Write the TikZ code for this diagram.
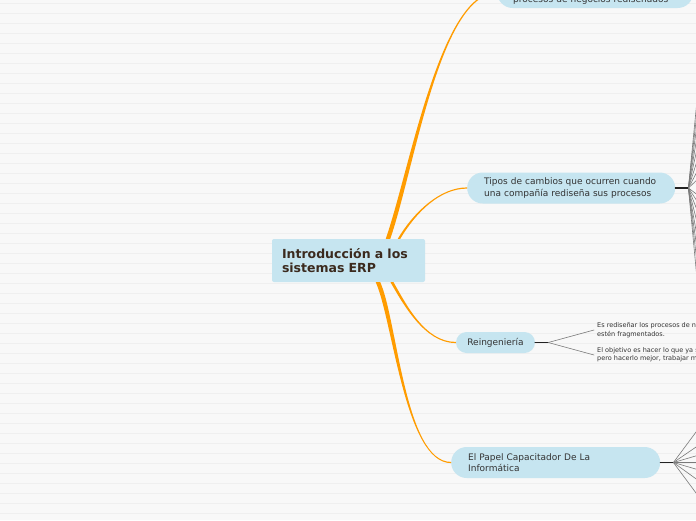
\documentclass[tikz,border=0pt]{standalone}
\usepackage{fontspec}
\setmainfont{DejaVu Sans}
\usetikzlibrary{calc}

\definecolor{canvas}{HTML}{F8F8F8}
\definecolor{stripe}{HTML}{EFEFEF}
\definecolor{topicblue}{HTML}{C6E5F0}
\definecolor{branchorange}{HTML}{FF9C00}
\definecolor{inktext}{HTML}{333333}
\definecolor{roottext}{HTML}{3B2A1E}
\definecolor{twiggray}{HTML}{7A7A7A}
\definecolor{stemblack}{HTML}{222222}

% tapered branch: start, control 1, control 2, end, start width, end width
\newcommand{\branch}[6]{%
  \fill[branchorange] ($(#1)+({-(#5)/2},0)$) .. controls ($(#2)+({-(#5)/2},0)$) and ($(#3)+(0,{-(#6)/2})$) .. ($(#4)+(0,{-(#6)/2})$)
    -- ($(#4)+(0,{(#6)/2})$) .. controls ($(#3)+(0,{(#6)/2})$) and ($(#2)+({(#5)/2},0)$) .. ($(#1)+({(#5)/2},0)$) -- cycle;}

\begin{document}
\begin{tikzpicture}[x=1pt, y=-1pt, line cap=round, line join=round]
	\tikzset{
		rootbox/.style={fill=topicblue, rounded corners=2pt, text=roottext, font=\fontsize{12.5}{14}\selectfont\bfseries, align=left, text width=133pt, inner xsep=10pt, minimum height=43pt},
		topicpill/.style={fill=topicblue, rounded corners=15.5pt, text=inktext, font=\fontsize{9}{11.3}\selectfont, align=left, minimum height=31pt, inner xsep=17pt},
		leaf/.style={text=inktext, font=\fontsize{6.5}{8.3}\selectfont, align=left, inner xsep=3pt, inner ysep=0pt},
		twig/.style={draw=twiggray, line width=0.6pt},
		stem/.style={draw=stemblack, line width=1.6pt}
	}
	
	\useasboundingbox (0,0) rectangle (696,520);
	\fill[canvas] (0,0) rectangle (696,520);
	\clip (0,0) rectangle (696,520);
	\foreach \y in {3.5,13.5,...,513.5}
	\draw[stripe, line width=1.2pt] (0,\y) -- (696,\y);
	
	% topics
	\node[rootbox] (intro) at (348.5,260.5) {Introducción a los\\sistemas ERP};
	\node[topicpill, text width=164pt, inner xsep=16pt, text height=22pt, text depth=2pt, anchor=west] (top) at (497,-7.5) {procesos de negocios rediseñados};
	\node[topicpill, text width=174pt, anchor=west] (tipos) at (467,188) {Tipos de cambios que ocurren cuando\\una compañía rediseña sus procesos};
	\node[topicpill, align=center, minimum width=79pt, minimum height=21pt, inner xsep=0pt, rounded corners=10.5pt] (reing) at (495.5,342.5) {Reingeniería};
	\node[topicpill, text width=175pt, anchor=west] (papel) at (451,462.5) {El Papel Capacitador De La\\Informática};
	
	% orange branches
	\coordinate (s1) at ($(intro.north)+(39.5,0)$);
	\coordinate (s2) at ($(intro.north)+(50.5,0)$);
	\coordinate (s3) at ($(intro.south)+(43.5,0)$);
	\coordinate (s4) at ($(intro.south)+(29.5,0)$);
	\branch{s1}{412,170}{440,-7.5}{top.west}{4.5}{1.5}
	\branch{s2}{415,212}{440,188}{tipos.west}{2.5}{1.2}
	\branch{s3}{405,305}{425,342.5}{reing.west}{3}{-1.2}
	\branch{s4}{395,320}{405,462.5}{papel.west}{4.5}{-1.2}
	
	% sub-branches of Tipos
	\draw[stem] (tipos.east) -- ++(13,0) coordinate (thub);
	\foreach \y [count=\i] in {80,95,110,125,140,155,168,178,196,204,215,230,247,263,280,300} {
		\coordinate (tfar\i) at (699,\y);
		\draw[twig] (thub) -- (tfar\i);
	}
	
	% sub-branches of Reingenieria
	\draw[stem] (reing.east) -- ++(13,0) coordinate (rhub);
	\node[leaf, anchor=west] (re1) at (594,330) {Es rediseñar los procesos de negocio\\estén fragmentados.};
	\node[leaf, anchor=west] (re2) at (594,355) {El objetivo es hacer lo que ya se hace,\\pero hacerlo mejor, trabajar más};
	\draw[twig] (rhub) -- (re1.west);
	\draw[twig] (rhub) -- (re2.west);
	
	% sub-branches of El Papel
	\draw[stem] (papel.east) -- ++(13,0) coordinate (phub);
	\foreach \y [count=\i] in {428,445,455,462.5,470,481,497} {
		\coordinate (pfar\i) at (699,\y);
		\draw[twig] (phub) -- (pfar\i);
	}
\end{tikzpicture}
\end{document}
